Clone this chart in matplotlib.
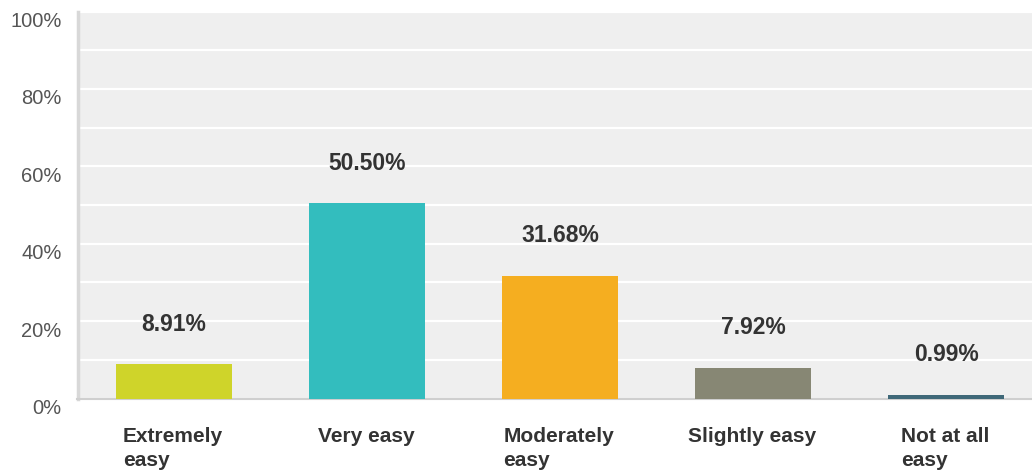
import matplotlib
matplotlib.use("Agg")
import matplotlib.pyplot as plt
from matplotlib import transforms

categories = ["Extremely\neasy", "Very easy", "Moderately\neasy", "Slightly easy", "Not at all\neasy"]
values = [8.91, 50.50, 31.68, 7.92, 0.99]
colors = ["#cfd42a", "#33bdbe", "#f5ae20", "#878774", "#3f6878"]
yticks = [0, 20, 40, 60, 80, 100]

plt.rcParams['font.family'] = ['Liberation Sans', 'DejaVu Sans']

fig = plt.figure(figsize=(10.32, 4.71), dpi=100)
ax = fig.add_axes([77.5/1032, 72.5/471, (1032-77.5)/1032, 387/471])
ax.set_facecolor("#efefef")

x = list(range(len(values)))
ax.bar(x, values, width=0.6, color=colors, zorder=3)

ax.set_ylim(0, 100)
ax.set_xlim(-0.5, -0.5 + (1032-77.5)/193.0)
ax.set_yticks(list(range(0, 101, 10)))
ax.set_yticklabels([])
ax.set_xticks([])
ax.tick_params(length=0)
ax.grid(axis='y', color='white', linewidth=1.6, zorder=1)
ax.set_axisbelow(True)

for s in ['top', 'right']:
    ax.spines[s].set_visible(False)
ax.spines['left'].set_color('#d8d8d8')
ax.spines['left'].set_linewidth(2.5)
ax.spines['bottom'].set_color('#cfcfcf')
ax.spines['bottom'].set_linewidth(1.5)

# y tick labels (sit slightly below their gridline)
ytrans = ax.get_yaxis_transform() + transforms.ScaledTranslation(-16/100, -10/100, fig.dpi_scale_trans)
for t in yticks:
    ax.text(0, t, f"{t}%", transform=ytrans, ha='right', va='center',
            fontsize=14.5, color='#555555')

# value labels
vtrans = ax.transData + transforms.ScaledTranslation(0, 40/100, fig.dpi_scale_trans)
for xi, v in zip(x, values):
    ax.text(xi, v, f"{v:.2f}%", transform=vtrans, ha='center', va='center',
            fontsize=16.5, fontweight='bold', color='#333333')

# category labels (block centred under bar, lines left-aligned)
ctrans = ax.get_xaxis_transform() + transforms.ScaledTranslation(-1/100, -29/100, fig.dpi_scale_trans)
for xi, c in zip(x, categories):
    ax.text(xi, 0, c, transform=ctrans, ha='center', va='top', multialignment='left',
            fontsize=15, fontweight='bold', color='#333333', linespacing=1.3)

fig.savefig("out.png", dpi=100)
